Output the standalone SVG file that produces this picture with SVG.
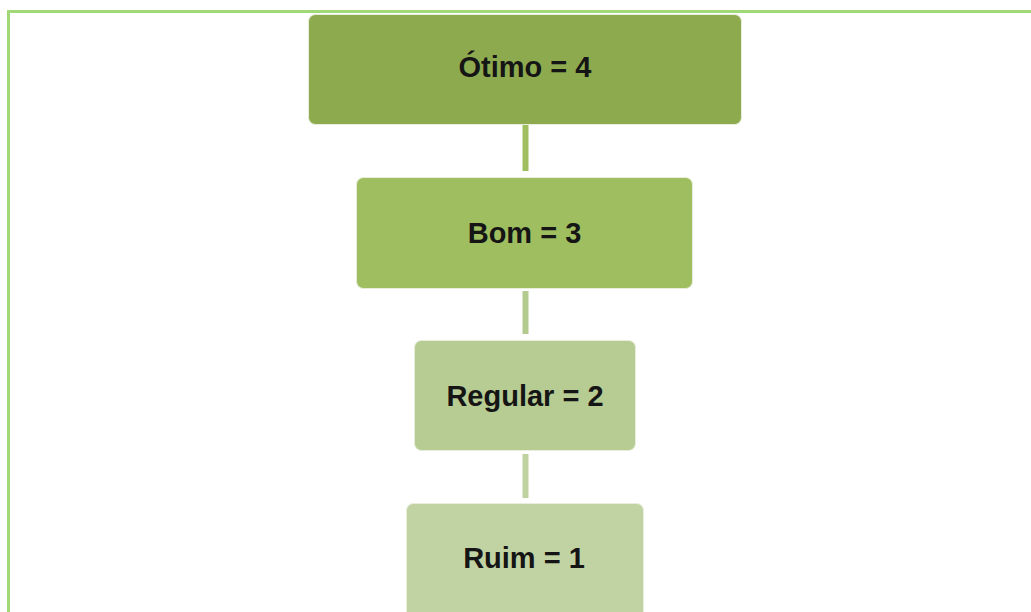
<svg xmlns="http://www.w3.org/2000/svg" width="1031" height="612" viewBox="0 0 1031 612">
<style>
.lbl{font-family:"Liberation Sans",Arial,sans-serif;font-size:29px;font-weight:bold;fill:#151515;text-anchor:middle}
.box{stroke:#e8eedc;stroke-width:1}
.conn{stroke-width:6;fill:none}
</style>
<rect x="0" y="0" width="1031" height="612" fill="#ffffff"/>
<path d="M8.5 620 V11.5 H1040" fill="none" stroke="#a2d877" stroke-width="3"/>
<g id="connectors">
<line class="conn" x1="525.5" y1="125" x2="525.5" y2="171" stroke="#9ebe5f"/>
<line class="conn" x1="525.5" y1="291" x2="525.5" y2="334" stroke="#b4ca8e"/>
<line class="conn" x1="525.5" y1="454" x2="525.5" y2="498" stroke="#c0d2a0"/>
</g>
<g id="otimo">
<rect class="box" x="308.5" y="14.5" width="433" height="110" rx="7" fill="#8eaa4f"/>
<text class="lbl" x="525" y="77" style="font-weight:600">Ótimo = 4</text>
</g>
<g id="bom">
<rect class="box" x="356.5" y="177.5" width="336" height="111" rx="7" fill="#9ebe5f"/>
<text class="lbl" x="524.5" y="243">Bom = 3</text>
</g>
<g id="regular">
<rect class="box" x="414.5" y="340.5" width="221" height="110" rx="7" fill="#b6cc92"/>
<text class="lbl" x="525" y="406">Regular = 2</text>
</g>
<g id="ruim">
<rect class="box" x="406.5" y="503.5" width="237" height="120" rx="7" fill="#c2d3a3"/>
<text class="lbl" x="524" y="568">Ruim = 1</text>
</g>
</svg>
